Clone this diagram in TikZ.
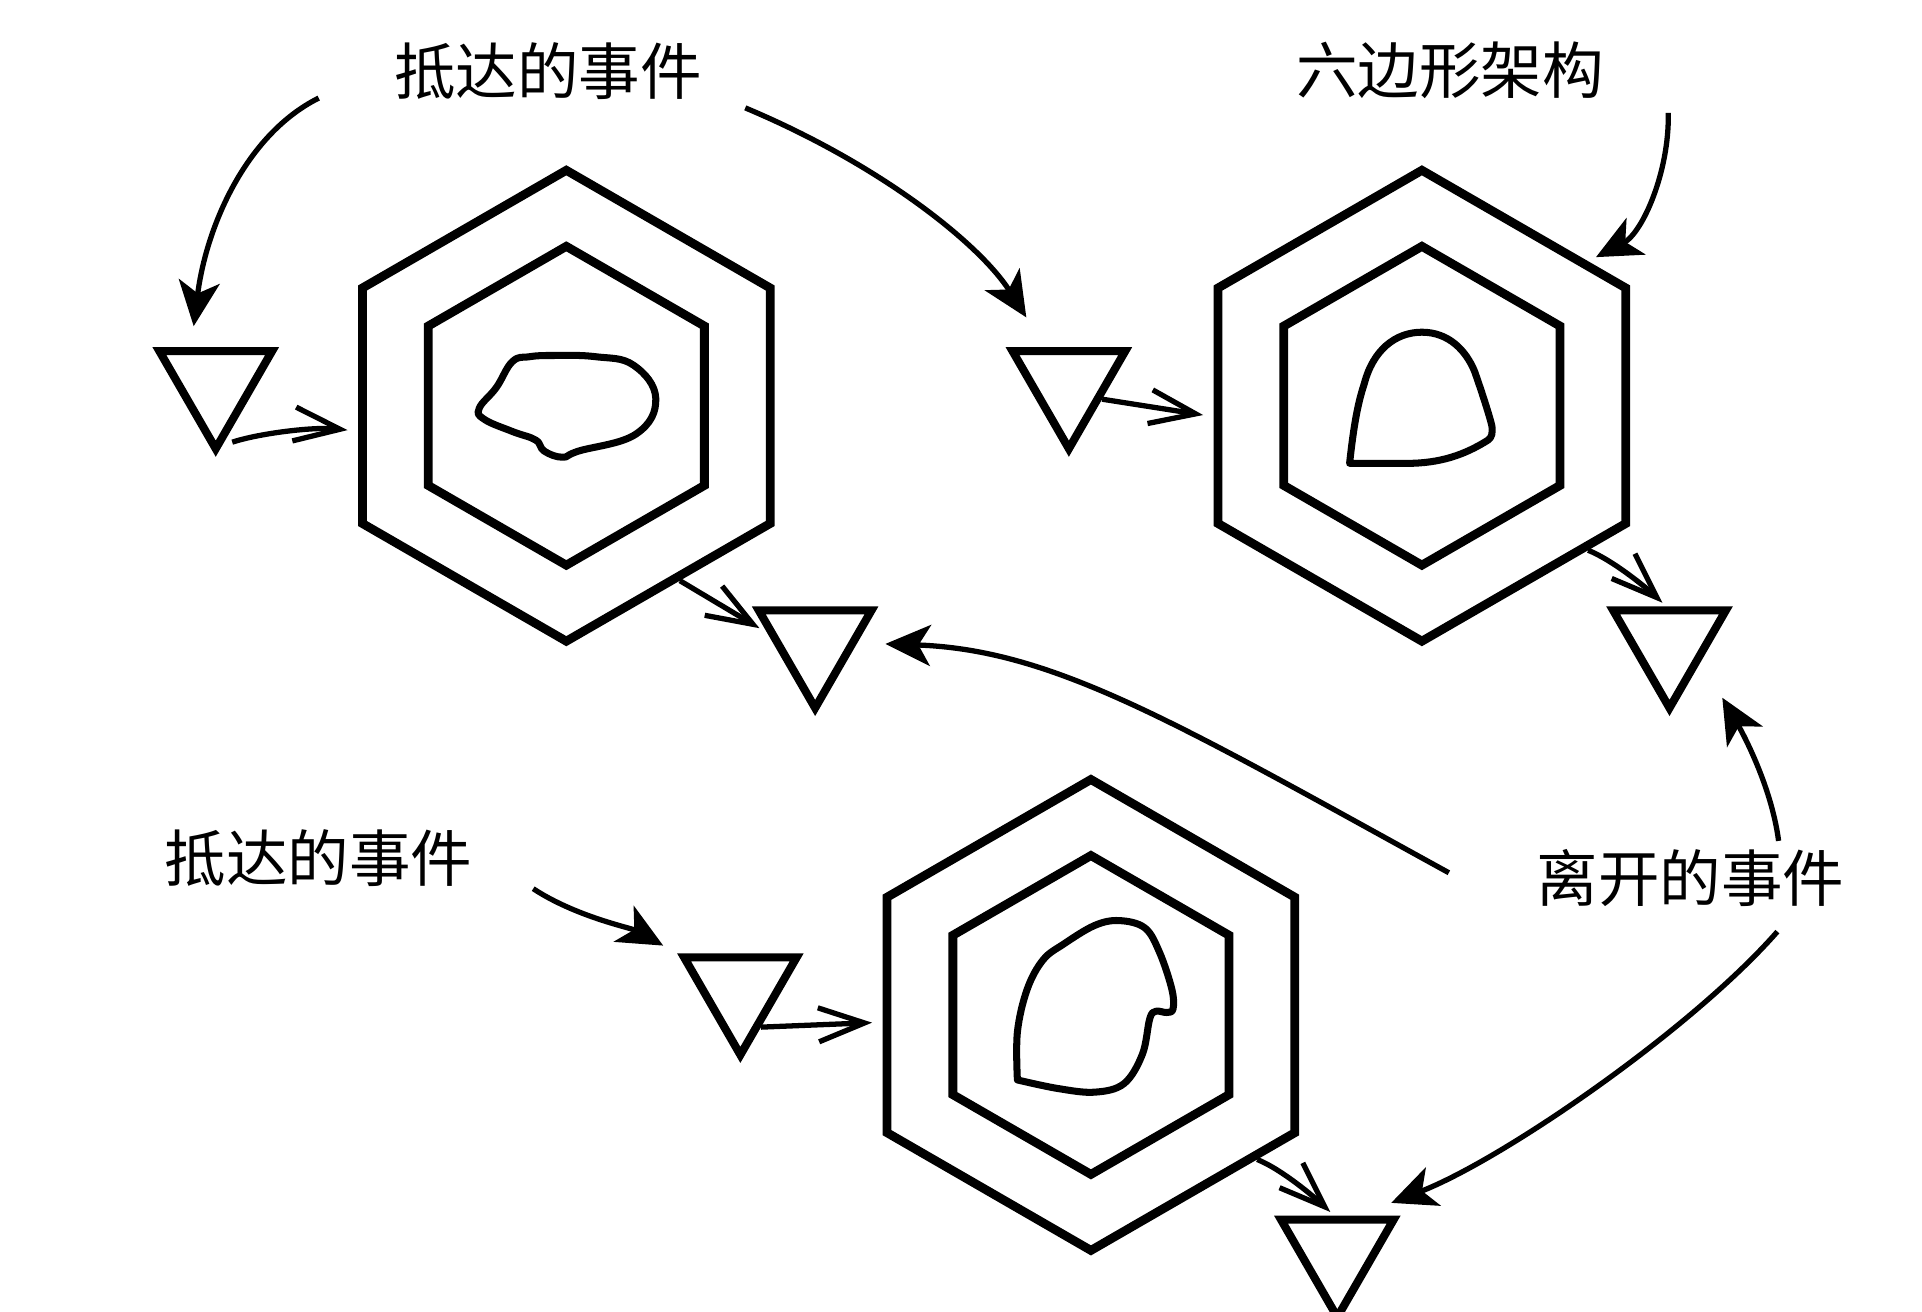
\documentclass[tikz,border=0pt]{standalone}
\usepackage{fontspec}
\newfontfamily\cjk{Noto Sans CJK SC}
\usetikzlibrary{arrows.meta, shapes.geometric}
\tikzset{
  hexout/.style={regular polygon, regular polygon sides=6, shape border rotate=30, draw,
    line width=2.5pt, minimum size=4.707cm, inner sep=0pt},
  hexin/.style={hexout, minimum size=3.187cm},
  evt/.style={regular polygon, regular polygon sides=3, shape border rotate=180, draw,
    line width=2.3pt, minimum size=1.30cm, inner sep=0pt},
  lbl/.style={font=\cjk\fontsize{17.5}{21}\selectfont, inner sep=0pt},
  blob/.style={line width=2pt, line join=round},
  bigarr/.style={-{Stealth[length=4.5mm, width=4.1mm, inset=1.2mm]}, line width=1.5pt},
  smallarr/.style={-{Straight Barb[length=4.6mm, width=3.4mm]}, line width=1.5pt},
}
\begin{document}
\begin{tikzpicture}[x=0.012258cm, y=-0.012258cm]
  \useasboundingbox (0,0) rectangle (1568,1070);

  % hexagons
  \node[hexout] (hexA) at (462,331) {};
  \node[hexin] (hexAin) at (462,331) {};
  \node[hexout] (hexB) at (1160,331) {};
  \node[hexin] (hexBin) at (1160,331) {};
  \node[hexout] (hexC) at (890,828) {};
  \node[hexin] (hexCin) at (890,828) {};

  \draw[blob, shift={(hexA.center)}] plot[smooth cycle, tension=0.7] coordinates {
    (-30,-40) (-10,-41) (24,-40) (55,-33) (73,-6) (57,23) (10,37) (-3,42) (-18,37)
    (-25,28) (-44,21) (-67,11) (-71,2) (-57,-15) (-44,-36)};
  \draw[blob, shift={(hexB.center)}] (-59,47) .. controls (-56,20) and (-53,0) .. (-47,-18)
    .. controls (-40,-45) and (-22,-60) .. (0,-60)
    .. controls (22,-60) and (36,-45) .. (43,-28)
    .. controls (50,-8) and (55,8) .. (57,16)
    .. controls (58,22) and (57,26) .. (54,28)
    .. controls (35,40) and (15,47) .. (-12,47) -- cycle;
  \draw[blob, shift={(hexC.center)}] plot[smooth, tension=0.6] coordinates {
    (-60,53) (-60,14) (-52,-21) (-39,-45) (-22,-58) (3,-73) (23,-77) (44,-71) (56,-51)
    (66,-21) (67,-5) (62,-2) (53,-3) (48,3) (42,32) (27,56) (3,63) (-27,60) (-60,53)} -- cycle;

  % events
  \node[evt] (evA) at (176,313) {};
  \node[evt] (evB) at (872,313) {};
  \node[evt] (evC) at (665,524.5) {};
  \node[evt] (evD) at (1362,524.5) {};
  \node[evt] (evE) at (604,807.5) {};
  \node[evt] (evF) at (1091,1021.5) {};

  % labels
  \node[lbl] (inTop) at (447,58) {抵达的事件};
  \node[lbl] (hexLbl) at (1183,57) {六边形架构};
  \node[lbl] (inBot) at (260,700) {抵达的事件};
  \node[lbl] (outLbl) at (1379,716) {离开的事件};

  \coordinate (inTopL) at (260,80);
  \coordinate (inTopR) at (608,88);
  \coordinate (hexLblEnd) at (1361,92);
  \coordinate (inBotEnd) at (435,725);
  \coordinate (outL) at (1182,712);
  \coordinate (outUp) at (1451,686);
  \coordinate (outDown) at (1450,760);

  \draw[bigarr, shorten >=6pt] (inTopL) .. controls (200,110) and (168,186) .. (evA.124);
  \draw[bigarr, shorten >=10pt] (inTopR) .. controls (720,135) and (800,200) .. (evB.123);
  \draw[bigarr, shorten >=2.5pt] (hexLblEnd) .. controls (1362,140) and (1340,190) .. (hexB.41);
  \draw[bigarr, shorten >=4.5pt] (inBotEnd) .. controls (470,748) and (515,757) .. (evE.150);
  \draw[bigarr, shorten >=8pt] (outL) .. controls (960,590) and (860,530) .. (evC.0);
  \draw[bigarr, shorten >=12pt] (outUp) .. controls (1445,640) and (1420,595) .. (evD.-30);
  \draw[bigarr, shorten >=10pt] (outDown) .. controls (1380,840) and (1226,946) .. (evF.60);

  \draw[smallarr, shorten <=3pt, shorten >=3pt] (evA.-84) .. controls +(30,-10) and +(-35,-4) .. (hexA.187);
  \draw[smallarr, shorten >=3pt] (evB.-25) -- (hexB.183);
  \draw[smallarr, shorten >=3pt] (evE.-61) -- (hexC.182);
  \draw[smallarr, shorten >=2.5pt] (hexA.-57) -- (evC.168);
  \draw[smallarr, shorten >=1.5pt] (hexB.-41) .. controls +(20,8) and +(-16,-15) .. (evD.95);
  \draw[smallarr, shorten >=1.5pt] (hexC.-41) .. controls +(20,8) and +(-16,-15) .. (evF.95);
\end{tikzpicture}
\end{document}
